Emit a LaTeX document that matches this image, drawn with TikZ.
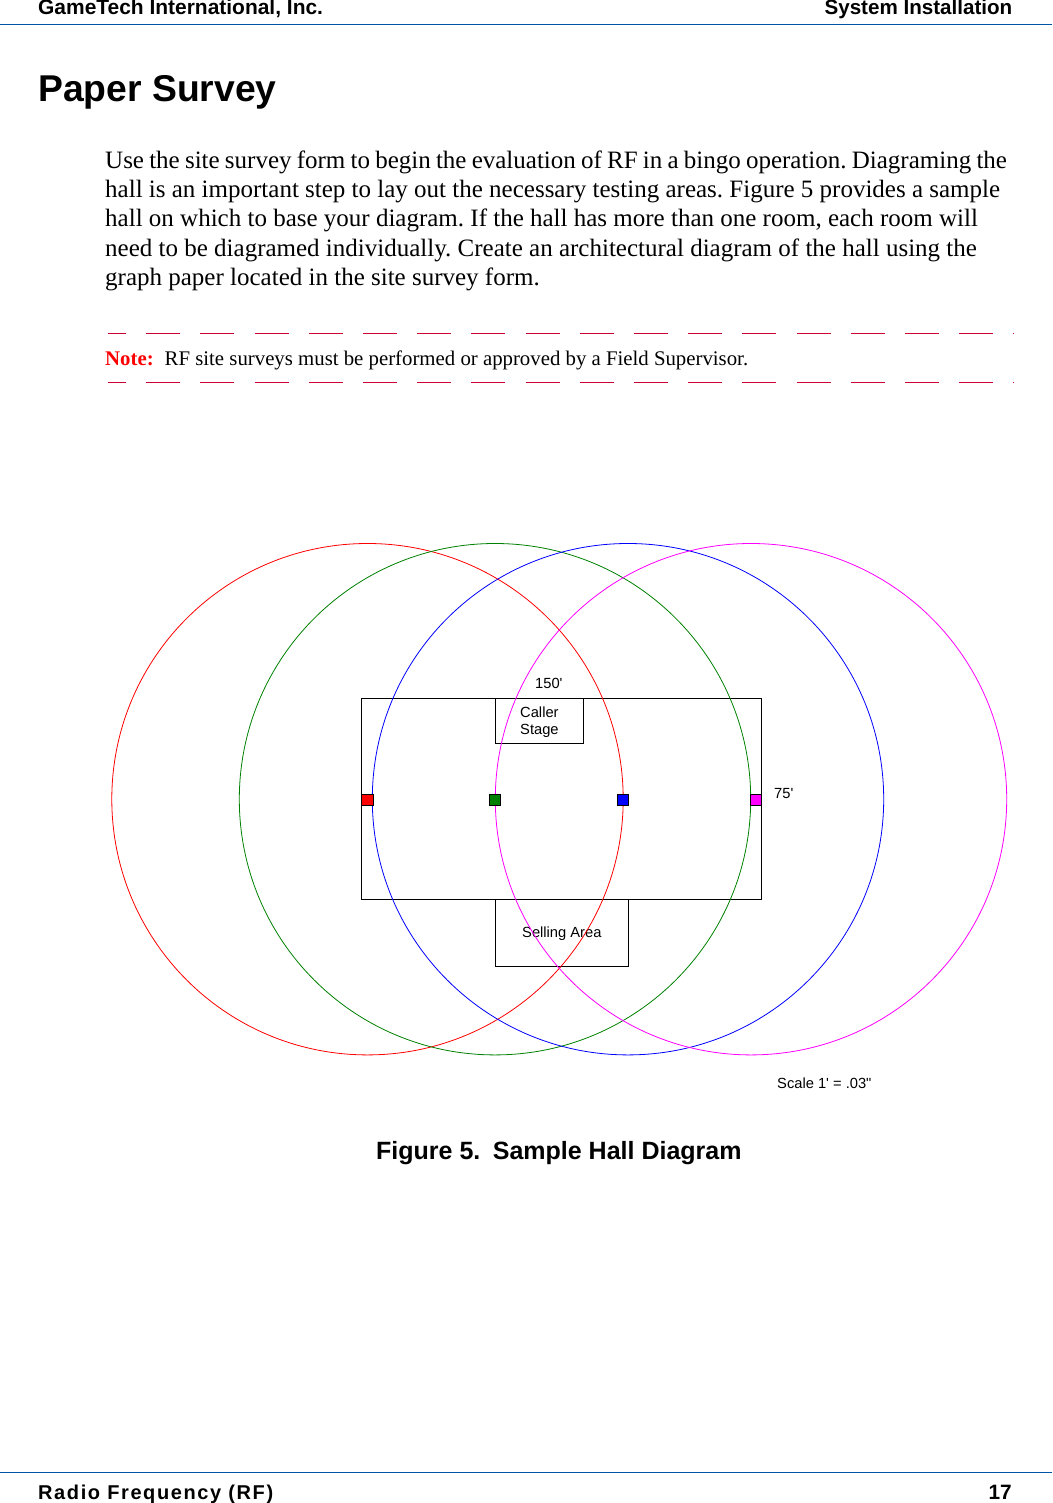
\documentclass[tikz,border=0pt]{standalone}
\usepackage{fontspec}
\setmainfont{Liberation Serif}
\newfontfamily\headfont{Liberation Sans}
\newfontfamily\footfont[LetterSpace=8]{Liberation Sans}
\frenchspacing
\definecolor{rulebl}{RGB}{0,84,166}
\definecolor{notered}{RGB}{204,0,51}
\definecolor{sitegreen}{RGB}{0,128,0}
\definecolor{sitemagenta}{RGB}{255,0,255}
\tikzset{
	txt/.style={inner sep=0pt, anchor=base west},
	headtxt/.style={txt, font=\headfont\bfseries\fontsize{20.8}{24}\selectfont},
	foottxt/.style={txt, font=\footfont\bfseries\fontsize{20}{24}\selectfont},
	bodytxt/.style={txt, font=\fontsize{25}{29}\selectfont},
	labeltxt/.style={txt, font=\headfont\fontsize{14.7}{17}\selectfont},
	notedash/.style={notered, line width=1pt, dash pattern=on 34pt off 20.2pt, dash phase=16pt},
	sitecircle/.style={line width=.8pt},
	sitemark/.style={draw=black, line width=.8pt},
}
\begin{document}
\begin{tikzpicture}[x=1pt, y=-1pt]
	\useasboundingbox (0,0) rectangle (1052,1503);
	%page head and foot
	\draw[rulebl, line width=1pt] (0,24.5) -- (1052,24.5);
	\draw[rulebl, line width=1pt] (0,1472.5) -- (1052,1472.5);
	\node[headtxt] (company) at (38,15) {\fontsize{20.95}{24}\selectfont GameTech International, Inc.};
	\node[headtxt, anchor=base east] (chapter) at (1012.5,15) {\fontsize{20.6}{24}\selectfont System Installation};
	\node[foottxt] (section) at (38,1499) {Radio Frequency (RF)};
	\node[headtxt, anchor=base east] (pageno) at (1012,1499) {17};
	%text
	\node[txt, font=\headfont\bfseries\fontsize{37.3}{44}\selectfont] (title) at (38,102) {Paper Survey};
	\node[bodytxt] (line1) at (105,169) {\spaceskip=5.2pt Use the site survey form to begin the evaluation of RF in a bingo operation. Diagraming the};
	\node[bodytxt] (line2) at (105,198) {hall is an important step to lay out the necessary testing areas. Figure 5 provides a sample};
	\node[bodytxt] (line3) at (105,227) {hall on which to base your diagram. If the hall has more than one room, each room will};
	\node[bodytxt] (line4) at (105,257) {need to be diagramed individually. Create an architectural diagram of the hall using the};
	\node[bodytxt] (line5) at (105,286) {graph paper located in the site survey form.};
	%note
	\draw[notedash] (108,333) -- (1014,333);
	\draw[notedash] (108,382.5) -- (1014,382.5);
	\node[txt, font=\fontsize{20.8}{26}\selectfont] (note) at (105,365) {\textcolor{red}{\textbf{Note:}}\hspace{11pt}RF site surveys must be performed or approved by a Field Supervisor.};
	%hall
	\draw[line width=.8pt] (361,698.5) rectangle (761.5,899.5);
	\draw[line width=.8pt] (495.5,698.5) rectangle (583.5,743.5);
	\draw[line width=.8pt] (495.5,899.5) rectangle (628.5,966.5);
	\node[labeltxt] (length) at (535,688) {150'};
	\node[labeltxt] (caller) at (520,717) {Caller};
	\node[labeltxt] (stage) at (520,734) {Stage};
	\node[labeltxt] (width) at (774,798) {75'};
	\node[labeltxt] (selling) at (522,937) {Selling Area};
	\node[labeltxt] (scale) at (777,1088) {Scale 1' = .03"};
	%circles
	\draw[sitecircle, red]         (367.5,799.2) circle (255.7);
	\draw[sitecircle, sitegreen]   (495,799.2) circle (255.7);
	\draw[sitecircle, blue]        (628,799.2) circle (255.7);
	\draw[sitecircle, sitemagenta] (751,799.2) circle (255.7);
	\filldraw[sitemark, fill=red]         (361.5,794.5) rectangle (373,805);
	\filldraw[sitemark, fill=sitegreen]   (489.5,794.5) rectangle (500,805);
	\filldraw[sitemark, fill=blue]        (617.5,794.5) rectangle (628,805);
	\filldraw[sitemark, fill=sitemagenta] (750.5,794.5) rectangle (761,805);
	%caption
	\node[txt, font=\headfont\bfseries\fontsize{25}{30}\selectfont] (caption) at (376,1159.5) {Figure 5.\hspace{.28em}\kern-1.5pt{} Sample Hall Diagram};
\end{tikzpicture}
\end{document}
